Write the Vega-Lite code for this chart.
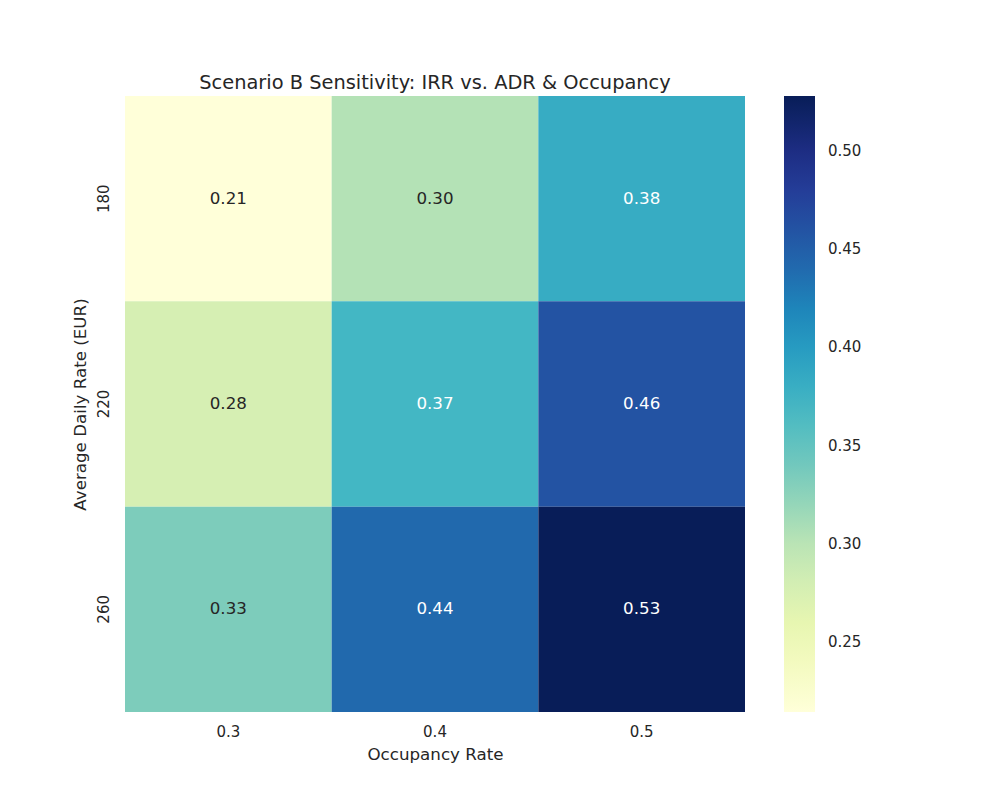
{
  "$schema": "https://vega.github.io/schema/vega-lite/v6.json",
  "autosize": {"type": "none"},
  "padding": {"left": 125, "top": 96, "right": 255, "bottom": 88},
  "width": 620,
  "height": 616,
  "background": "white",
  "config": {
    "font": "DejaVu Sans",
    "view": {"stroke": null},
    "axis": {"labelColor": "#262626", "titleColor": "#262626", "titleFontWeight": "normal", "domain": false, "ticks": false, "grid": false}
  },
  "title": {
    "text": "Scenario B Sensitivity: IRR vs. ADR & Occupancy",
    "fontSize": 19.4,
    "fontWeight": "normal",
    "color": "#262626",
    "anchor": "middle",
    "offset": 3
  },
  "data": {
    "values": [
      {"adr": 180, "occupancy": 0.3, "irr": 0.2144},
      {"adr": 180, "occupancy": 0.4, "irr": 0.303},
      {"adr": 180, "occupancy": 0.5, "irr": 0.382},
      {"adr": 220, "occupancy": 0.3, "irr": 0.277},
      {"adr": 220, "occupancy": 0.4, "irr": 0.370},
      {"adr": 220, "occupancy": 0.5, "irr": 0.460},
      {"adr": 260, "occupancy": 0.3, "irr": 0.333},
      {"adr": 260, "occupancy": 0.4, "irr": 0.441},
      {"adr": 260, "occupancy": 0.5, "irr": 0.528}
    ]
  },
  "encoding": {
    "x": {
      "field": "occupancy",
      "type": "ordinal",
      "title": "Occupancy Rate",
      "scale": {"paddingInner": 0, "paddingOuter": 0},
      "axis": {"labelAngle": 0, "labelFontSize": 15, "titleFontSize": 16.7, "labelPadding": 12, "titlePadding": 7, "format": ".1f"}
    },
    "y": {
      "field": "adr",
      "type": "ordinal",
      "title": "Average Daily Rate (EUR)",
      "scale": {"paddingInner": 0, "paddingOuter": 0},
      "axis": {"labelAngle": -90, "labelFontSize": 15, "titleFontSize": 16.7, "labelPadding": 14, "titlePadding": 7}
    }
  },
  "layer": [
    {
      "mark": {"type": "rect"},
      "encoding": {
        "color": {
          "field": "irr",
          "type": "quantitative",
          "scale": {
            "domain": [0.2144, 0.2536, 0.2928, 0.332, 0.3712, 0.4104, 0.4496, 0.4888, 0.528],
            "range": ["#ffffd9", "#edf8b1", "#c7e9b4", "#7fcdbb", "#41b6c4", "#1d91c0", "#225ea8", "#253494", "#081d58"],
            "interpolate": "rgb"
          },
          "legend": {
            "title": null,
            "orient": "none",
            "legendX": 659,
            "legendY": 0,
            "direction": "vertical",
            "gradientLength": 616,
            "gradientThickness": 31,
            "gradientStrokeWidth": 0,
            "values": [0.25, 0.3, 0.35, 0.4, 0.45, 0.5],
            "format": ".2f",
            "labelFontSize": 15,
            "labelColor": "#262626",
            "labelOffset": 13
          }
        }
      }
    },
    {
      "mark": {"type": "text", "fontSize": 16.7},
      "encoding": {
        "text": {"field": "irr", "type": "quantitative", "format": ".2f"},
        "color": {
          "condition": {"test": "datum.irr > 0.35", "value": "white"},
          "value": "#262626"
        }
      }
    }
  ]
}
